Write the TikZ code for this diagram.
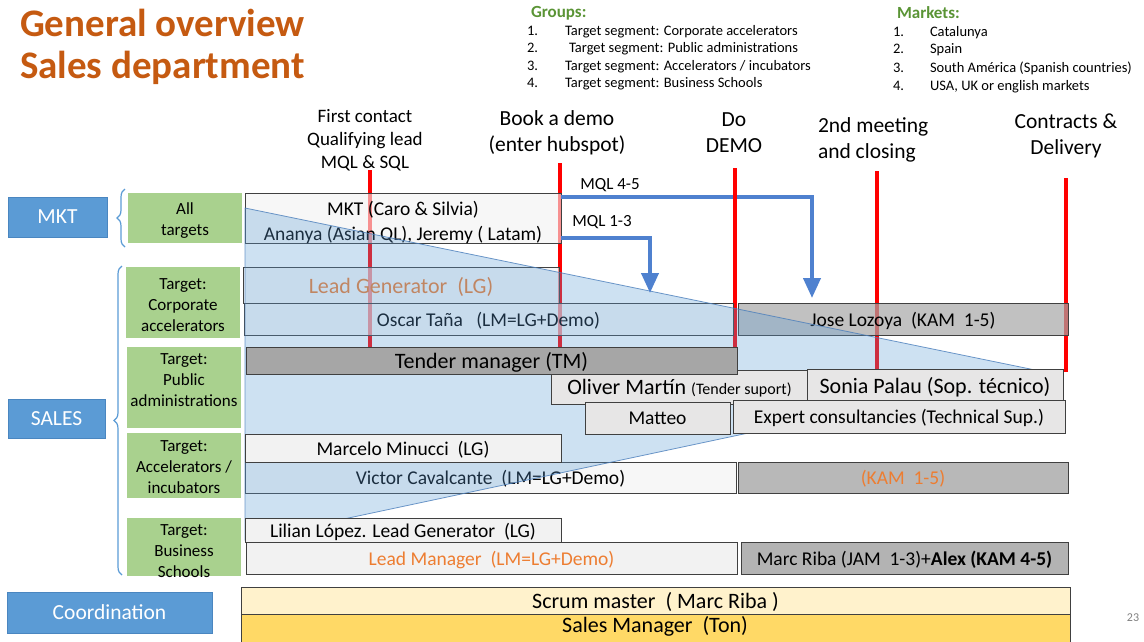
\documentclass[tikz,border=0pt]{standalone}
\usepackage{fontspec}
\setmainfont{Carlito}
\usetikzlibrary{arrows.meta,decorations.pathreplacing}

\definecolor{titleorange}{HTML}{C55A11}
\definecolor{groupgreen}{HTML}{5A9435}
\definecolor{labelblue}{HTML}{5B9BD5}
\definecolor{labelblueedge}{HTML}{4A86C0}
\definecolor{targetgreen}{HTML}{A9D18E}
\definecolor{boxlight}{HTML}{F2F2F2}
\definecolor{boxmid}{HTML}{E7E6E6}
\definecolor{boxdark}{HTML}{A6A6A6}
\definecolor{boxedge}{HTML}{404040}
\definecolor{textorange}{HTML}{ED7D31}
\definecolor{flowblue}{HTML}{5B9BD5}
\definecolor{flowedge}{HTML}{4A7EBB}
\definecolor{mqlblue}{HTML}{4F81CF}
\definecolor{stagered}{HTML}{FF0000}
\definecolor{scrumfill}{HTML}{FFF2CC}
\definecolor{managerfill}{HTML}{FFD966}

\newcommand{\fs}[2]{\fontsize{#1}{#2}\selectfont}

\tikzset{
  % a box given by its left, top, right and bottom edges
  span/.style n args={4}{at={({((#1)+(#3))/2},{((#2)+(#4))/2})},
    minimum width={(#3)-(#1)}, minimum height={(#4)-(#2)}},
  title/.style={text=titleorange, font=\bfseries\fs{39}{44}},
  listhead/.style={text=groupgreen, font=\bfseries\fs{17}{20}},
  listitem/.style={font=\fs{14.5}{17}},
  stage/.style={font=\fs{21.5}{26}, align=center},
  stagesmall/.style={font=\fs{19}{23}, align=center},
  stageline/.style={draw=stagered, line width=4pt},
  roletext/.style={font=\fs{19.5}{25}, text depth=0pt},
  rolebox/.style={roletext, draw=boxedge, line width=0.8pt},
  lightbox/.style={rolebox, fill=boxlight},
  midbox/.style={rolebox, fill=boxmid},
  darkbox/.style={rolebox, fill=boxdark},
  seethrough/.style={fill opacity=0.6, text opacity=1},
  big/.style={font=\fs{22}{26}},
  dept/.style={fill=labelblue, draw=labelblueedge, line width=0.6pt, text=white, font=\fs{21.5}{26}},
  targetbox/.style={fill=targetgreen},
  targettext/.style={font=\fs{17}{21}, align=center},
  brace/.style={draw=labelblue, line width=1.2pt, decorate, decoration={brace, amplitude=8pt}},
  mql/.style={draw=mqlblue, line width=4pt, -{Triangle[length=20pt,width=17pt]}},
  mqllabel/.style={font=\fs{17}{20}},
  flow/.style={fill=flowblue, fill opacity=0.3, draw=flowedge, draw opacity=0.8, line width=0.8pt}
}

\begin{document}
\begin{tikzpicture}[x=1pt, y=-1pt, every node/.style={inner sep=0pt, outer sep=0pt}]
\useasboundingbox (0,0) rectangle (1144,641);

% Title
\node[title, anchor=base west] (title1) at (20,36) {General overview};
\node[title, anchor=base west] (title2) at (20,78) {Sales department};

% Groups
\node[listhead, anchor=base west] (ghead) at (531,17) {Groups:};
\node[listitem, anchor=base west] (g1n) at (527,35) {1.};
\node[listitem, anchor=base west] (g1) at (565,35) {Target segment: Corporate accelerators};
\node[listitem, anchor=base west] (g2n) at (527,52) {2.};
\node[listitem, anchor=base west] (g2) at (569,52) {Target segment: Public administrations};
\node[listitem, anchor=base west] (g3n) at (527,70) {3.};
\node[listitem, anchor=base west] (g3) at (565,70) {Target segment: Accelerators / incubators};
\node[listitem, anchor=base west] (g4n) at (527,87) {4.};
\node[listitem, anchor=base west] (g4) at (565,87) {Target segment: Business Schools};

% Markets
\node[listhead, anchor=base west] (mhead) at (897,18) {Markets:};
\node[listitem, anchor=base west] (m1n) at (893,36) {1.};
\node[listitem, anchor=base west] (m1) at (930,36) {Catalunya};
\node[listitem, anchor=base west] (m2n) at (893,53) {2.};
\node[listitem, anchor=base west] (m2) at (930,53) {Spain};
\node[listitem, anchor=base west] (m3n) at (893,72) {3.};
\node[listitem, anchor=base west] (m3) at (930,72) {South América (Spanish countries)};
\node[listitem, anchor=base west] (m4n) at (893,90) {4.};
\node[listitem, anchor=base west] (m4) at (930,90) {USA, UK or english markets};

% Stage headings
\node[stagesmall] (s1) at (365,140) {First contact\\Qualifying lead\\MQL \& SQL};
\node[stage] (s2) at (557,133) {Book a demo\\(enter hubspot)};
\node[stage] (s3) at (734,133) {Do\\DEMO};
\node[stage, align=left, anchor=west] (s4) at (818,140) {2nd meeting\\and closing};
\node[stage] (s5) at (1066,136) {Contracts \&\\Delivery};

% Stage markers
\draw[stageline] (370,170) -- (370,347);
\draw[stageline] (560,163) -- (560,347);
\draw[stageline] (735,168) -- (735,347);
\draw[stageline] (877,171) -- (877,369);
\draw[stageline] (1066,178) -- (1066,372);

% Department labels
\node[dept, span={8}{197}{107}{237}] (dmkt) {MKT};
\node[dept, span={8}{399}{105}{438}] (dsales) {SALES};
\node[dept, span={7}{592}{212}{633}] (dcoord) {Coordination};

\draw[brace] (125,247) -- (125,189);
\draw[brace] (122,575) -- (122,266);

% Target segments
\node[targetbox, span={128}{193}{242}{243}] (t0) {};
\node[targettext] (t0l) at (185,221) {All\\targets};
\node[targetbox, span={126}{267}{240}{338}] (t1) {};
\node[targettext] (t1l) at (183,305) {Target:\\Corporate\\accelerators};
\node[targetbox, span={127}{347}{241}{428}] (t2) {};
\node[targettext] (t2l) at (184,380) {Target:\\Public\\administrations};
\node[targetbox, span={127}{433}{241}{498}] (t3) {};
\node[targettext] (t3l) at (184,467) {Target:\\Accelerators /\\incubators};
\node[targetbox, span={127}{518}{241}{576}] (t4) {};
\node[targettext] (t4l) at (184,551) {Target:\\Business\\Schools};

% Roles under the funnel
\node[lightbox, seethrough, span={245}{193}{561}{243}] (mkt) {};
\node[roletext] (mktl1) at (403,208) {MKT (Caro \& Silvia)};
\node[roletext] (mktl2) at (403,233) {Ananya (Asian QL), Jeremy ( Latam)};
\node[lightbox, seethrough, span={243}{267}{559}{303}, big, text=textorange] (lg) {Lead Generator\ \ (LG)};
\node[lightbox, seethrough, span={244}{303}{733}{335}] (oscar) {Oscar Taña\ \ \ (LM=LG+Demo)};
\node[darkbox, fill opacity=0.7, text opacity=1, span={738}{303}{1068}{335}] (jose) {Jose Lozoya\ \ (KAM\ \ 1-5)};
\node[lightbox, seethrough, span={245}{462}{736}{493}] (victor) {Victor Cavalcante\ \ (LM=LG+Demo)};
\node[darkbox, fill opacity=0.8, text opacity=1, span={738}{462}{1068}{493}, text=textorange] (kam) {(KAM\ \ 1-5)};

% Lead funnel
\filldraw[flow] (245,208) -- (1040,371) -- (245,540) -- cycle;

% Roles above the funnel
\node[midbox, span={551}{370}{808}{404}, big] (oliver) {Oliver Martín {\fs{16}{19}(Tender suport)}};
\node[midbox, span={807}{369}{1063}{401}, big] (sonia) {Sonia Palau (Sop. técnico)};
\node[darkbox, span={246}{347}{737}{374}, big] (tm) {Tender\ manager (TM)};
\node[midbox, span={585}{402}{730}{434}] (matteo) {Matteo};
\node[midbox, span={733}{400}{1065}{433}] (expert) {Expert consultancies (Technical Sup.)};
\node[lightbox, span={245}{434}{561}{462}] (marcelo) {Marcelo Minucci\ \ (LG)};
\node[lightbox, span={245}{518}{561}{542}] (lilian) {Lilian López. Lead Generator\ \ (LG)};
\node[lightbox, span={246}{542}{737}{574}, text=textorange] (leadmgr) {Lead Manager\ \ (LM=LG+Demo)};
\node[darkbox, fill opacity=0.85, text opacity=1, span={741}{542}{1068}{574}] (marc) {Marc Riba (JAM\ \ 1-3)+\textbf{Alex (KAM 4-5)}};

% Coordination
\node[rolebox, fill=scrumfill, span={241}{587}{1070}{614}, big] (scrum) {Scrum master\ \ ( Marc Riba )};
\node[rolebox, fill=managerfill, span={241}{614}{1070}{647}] (manager) {};
\node[roletext, big] (managerl) at (655,624) {Sales Manager\ \ (Ton)};

% MQL hand-offs
\coordinate (mqlhigh) at (0,197);
\coordinate (mqllow) at (0,238);
\coordinate (dropA) at (812,0);
\coordinate (dropB) at (650,0);
\draw[mql] (mkt.east |- mqlhigh) -| ([yshift=5pt]jose.north -| dropA);
\draw[mql] (mkt.east |- mqllow) -| ([yshift=10pt]oscar.north -| dropB);
\node[mqllabel] (l45) at (610,185) {MQL 4-5};
\node[mqllabel] (l13) at (602,222) {MQL 1-3};
% the DEMO marker runs over the upper hand-off
\draw[stageline] (735,190) -- (735,204);

% Page number
\node[font=\fs{12}{14}, text=gray] (pagenum) at (1133,618) {23};
\end{tikzpicture}
\end{document}
